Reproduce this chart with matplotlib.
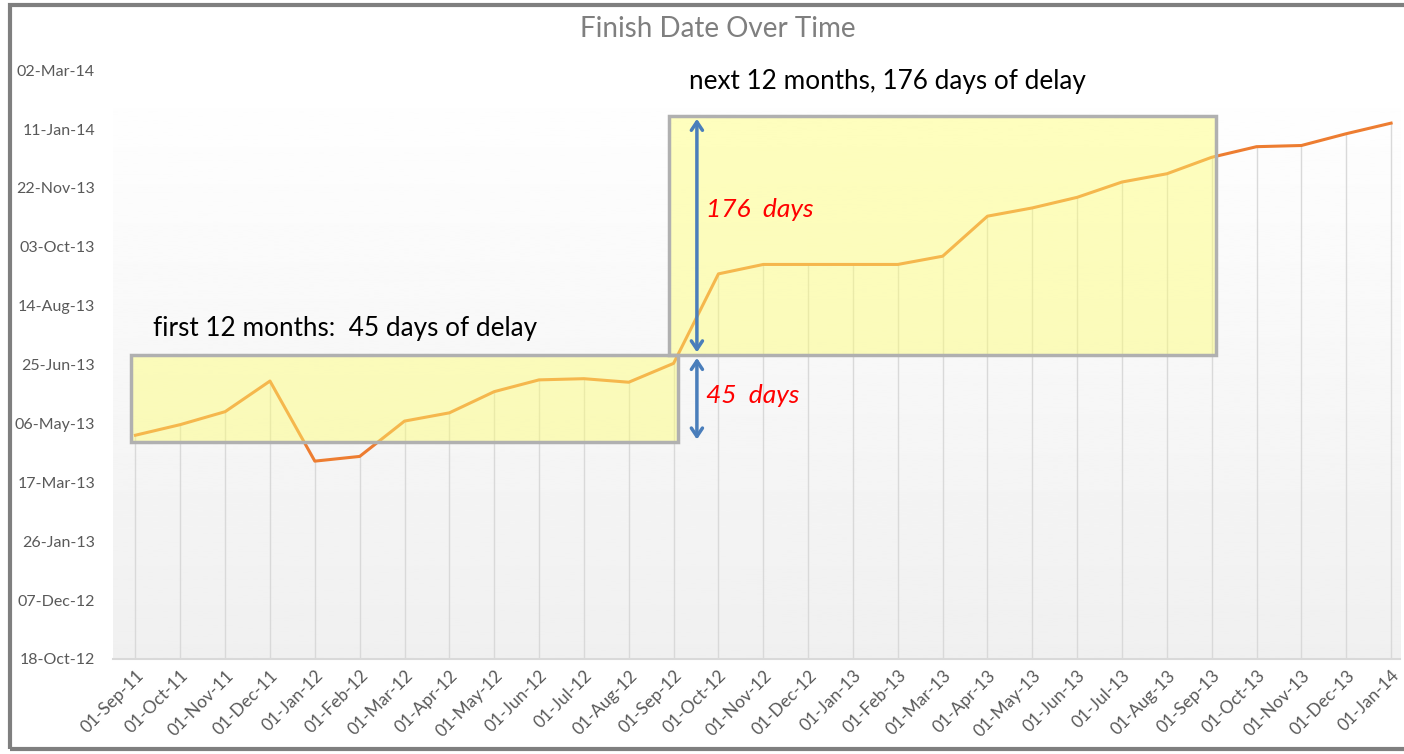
import numpy as np
import matplotlib.pyplot as plt
import matplotlib.dates as mdates
from matplotlib.patches import Rectangle, FancyArrowPatch

plt.rcParams['font.family'] = ['Lato', 'DejaVu Sans']

# status dates (x categories) and forecast finish dates (y)
months = ['01-Sep-11', '01-Oct-11', '01-Nov-11', '01-Dec-11', '01-Jan-12', '01-Feb-12',
          '01-Mar-12', '01-Apr-12', '01-May-12', '01-Jun-12', '01-Jul-12', '01-Aug-12',
          '01-Sep-12', '01-Oct-12', '01-Nov-12', '01-Dec-12', '01-Jan-13', '01-Feb-13',
          '01-Mar-13', '01-Apr-13', '01-May-13', '01-Jun-13', '01-Jul-13', '01-Aug-13',
          '01-Sep-13', '01-Oct-13', '01-Nov-13', '01-Dec-13', '01-Jan-14']
finish = ['2013-04-26', '2013-05-05', '2013-05-16', '2013-06-11', '2013-04-04', '2013-04-08',
          '2013-05-08', '2013-05-15', '2013-06-02', '2013-06-12', '2013-06-13', '2013-06-10',
          '2013-06-26', '2013-09-10', '2013-09-18', '2013-09-18', '2013-09-18', '2013-09-18',
          '2013-09-25', '2013-10-29', '2013-11-05', '2013-11-14', '2013-11-27', '2013-12-04',
          '2013-12-18', '2013-12-27', '2013-12-28', '2014-01-07', '2014-01-16']
y_start = '2012-10-18'
y_end = '2014-03-02'
tick_step = 50  # days

# highlight boxes: (first idx, last idx, low date, high date)
box1 = (0, 12, '2013-04-20', '2013-07-03')
box2 = (12, 24, '2013-07-03', '2014-01-22')

x = np.arange(len(months))
y = mdates.datestr2num(finish)
y0 = mdates.datestr2num(y_start)
y1 = mdates.datestr2num(y_end)

fig = plt.figure(figsize=(14.04, 7.54), dpi=100)
fig.patches.append(Rectangle((0.007, 0.006), 0.995, 0.988, transform=fig.transFigure,
                             fill=False, edgecolor='#7f7f7f', linewidth=3))
ax = fig.add_axes([0.0805, 0.126, 0.9167, 0.781])

# soft gradient background
grad = np.linspace(0.94, 1.0, 256).reshape(-1, 1)
ax.imshow(grad, cmap='gray', vmin=0, vmax=1, aspect='auto',
          extent=[-0.5, 28.2, y0, y1], origin='lower', zorder=0)

ax.vlines(x, y0, y, color='#d9d9d9', linewidth=1, zorder=1)
ax.plot(x, y, color='#ed7d31', linewidth=2.2, zorder=3)

for i0, i1, lo, hi in (box1, box2):
    lo_n, hi_n = mdates.datestr2num([lo, hi])
    ax.add_patch(Rectangle((i0 - 0.1, lo_n), i1 - i0 + 0.2, hi_n - lo_n,
                           facecolor='#ffff70', alpha=0.45, edgecolor='none', zorder=4))
    ax.add_patch(Rectangle((i0 - 0.1, lo_n), i1 - i0 + 0.2, hi_n - lo_n,
                           facecolor='none', edgecolor='#b0b0b0', linewidth=2.5, zorder=5))

ax_x = 12.52
mid = mdates.datestr2num(box1[3])
for top, bot in ((mdates.datestr2num(box2[3]), mid), (mid, mdates.datestr2num(box1[2]))):
    ax.add_patch(FancyArrowPatch((ax_x, bot), (ax_x, top), arrowstyle='<->,head_length=6,head_width=4',
                                 color='#4a7ebb', linewidth=2.5, zorder=6))

ax.text(ax_x + 0.2, mdates.datestr2num('2013-11-04'), '176  days', color='red', fontsize=19,
        style='italic', va='center', ha='left', zorder=7)
ax.text(ax_x + 0.2, mdates.datestr2num('2013-05-30'), '45  days', color='red', fontsize=19,
        style='italic', va='center', ha='left', zorder=7)
ax.text(0.4, mdates.datestr2num('2013-07-15'), 'first 12 months:  45 days of delay',
        fontsize=18.8, color='black', va='bottom', zorder=7)
ax.text(12.35, mdates.datestr2num('2014-02-20'), 'next 12 months, 176 days of delay',
        fontsize=18.8, color='black', va='center', zorder=7)

ax.set_xlim(-0.5, 28.2)
ax.set_ylim(y0, y1)
ax.set_xticks(x)
ax.set_xticklabels(months, rotation=45, ha='right', rotation_mode='anchor',
                   fontsize=12.5, color='#595959')
ax.set_yticks(np.arange(y0, y1 + 1, tick_step))
ax.yaxis.set_major_formatter(mdates.DateFormatter('%d-%b-%y'))
ax.tick_params(axis='y', labelsize=11.5, labelcolor='#595959', length=0, pad=13)
ax.tick_params(axis='x', length=0, pad=6)
for s in ['top', 'right', 'left']:
    ax.spines[s].set_visible(False)
ax.spines['bottom'].set_color('#d9d9d9')
ax.spines['bottom'].set_linewidth(1.5)

fig.text(0.511, 0.962, 'Finish Date Over Time', ha='center', va='center',
         fontsize=20, color='#7f7f7f')

fig.savefig('out.png', dpi=100)
